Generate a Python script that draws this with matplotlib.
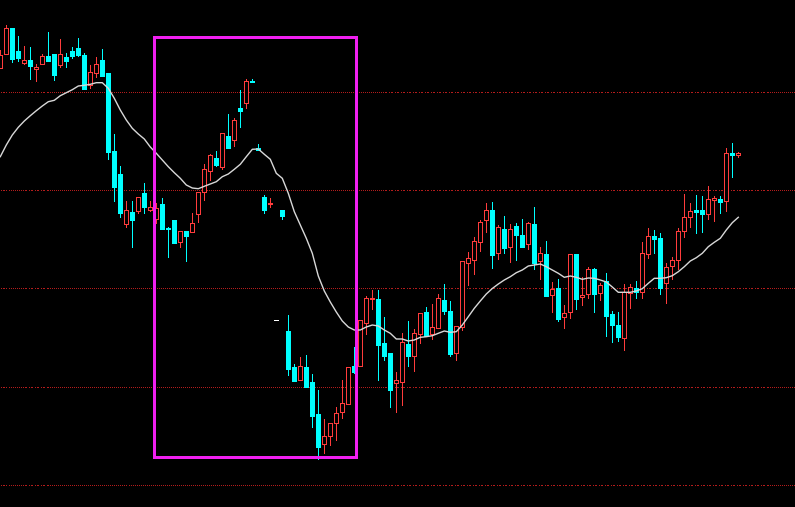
import matplotlib
matplotlib.use("Agg")
import matplotlib.pyplot as plt
import numpy as np
from matplotlib.patches import Rectangle

# daily OHLC, candle 0 is the leftmost (partly clipped) one
opens = [
    53.25, 54.65, 57.20, 54.90, 53.73, 53.97, 53.13, 53.63, 54.40, 54.60,
    53.53, 54.30, 54.90, 55.20, 54.50, 51.47, 52.73, 54.00, 52.70, 44.90,
    42.60, 37.57, 38.80, 38.90, 40.70, 39.00, 38.07, 39.60, 37.17, 38.00,
    35.77, 36.90, 36.77, 38.57, 40.77, 42.87, 44.20, 43.27, 46.40, 45.97,
    49.20, 49.67, 51.90, 45.20, 40.30, 39.60, 28.00, 38.97, 26.90, 23.27,
    22.03, 23.27, 21.80, 18.60, 15.57, 16.43, 17.67, 18.77, 19.63, 23.40,
    23.43, 27.73, 30.07, 30.10, 25.70, 24.70, 21.67, 21.77, 25.60, 24.43,
    26.57, 28.77, 26.57, 27.23, 30.00, 28.90, 24.73, 27.27, 33.67, 34.00,
    35.83, 37.97, 39.00, 34.73, 37.07, 35.33, 37.40, 36.50, 35.57, 37.60,
    33.87, 34.60, 30.47, 31.20, 28.27, 28.77, 34.60, 30.27, 30.57, 33.10,
    30.67, 31.90, 28.60, 27.50, 26.25, 30.67, 31.17, 30.83, 34.57, 36.37,
    36.23, 31.67, 33.43, 33.97, 36.87, 38.27, 39.00, 39.00, 38.57, 40.03,
    40.10, 39.93, 44.70, 44.47,
]
highs = [
    55.00, 57.50, 57.20, 56.40, 55.40, 55.27, 53.60, 54.60, 56.80, 54.60,
    56.10, 54.67, 55.30, 56.20, 54.70, 53.47, 54.30, 55.10, 52.70, 46.60,
    43.43, 39.90, 39.90, 40.30, 41.70, 39.90, 39.73, 40.17, 37.33, 38.00,
    36.87, 36.90, 38.70, 40.77, 43.57, 44.63, 44.90, 46.67, 48.60, 48.17,
    51.00, 52.10, 52.10, 45.60, 40.50, 40.20, 28.00, 38.97, 28.50, 23.57,
    24.27, 24.47, 22.60, 21.00, 18.10, 17.67, 19.33, 22.00, 23.27, 25.33,
    27.97, 30.40, 31.00, 31.00, 28.30, 24.70, 22.83, 26.70, 27.90, 27.10,
    28.67, 29.33, 29.57, 30.57, 31.60, 29.90, 27.40, 33.93, 34.77, 36.27,
    38.00, 39.67, 39.80, 37.50, 38.40, 37.60, 37.67, 38.10, 37.83, 39.33,
    35.30, 35.90, 31.80, 32.10, 29.50, 34.57, 34.60, 32.33, 33.33, 33.23,
    31.73, 32.70, 28.90, 28.85, 31.65, 31.60, 31.90, 35.80, 37.20, 37.00,
    36.67, 33.73, 34.33, 37.17, 40.60, 39.73, 40.50, 40.40, 41.40, 40.40,
    40.43, 45.17, 45.67, 44.77,
]
lows = [
    53.25, 54.65, 53.83, 53.93, 53.63, 52.10, 51.90, 53.63, 53.93, 52.00,
    53.33, 53.33, 54.23, 54.43, 51.10, 51.23, 52.33, 52.43, 44.13, 39.93,
    38.33, 37.33, 35.33, 38.73, 38.73, 38.90, 37.67, 37.10, 34.33, 35.73,
    35.33, 33.93, 36.77, 37.83, 40.03, 42.03, 43.40, 43.07, 45.23, 45.43,
    47.30, 49.23, 51.83, 44.97, 38.73, 39.33, 28.00, 38.13, 22.50, 21.93,
    22.03, 21.33, 17.33, 14.07, 14.67, 15.50, 16.00, 18.17, 19.63, 22.73,
    23.43, 26.57, 29.13, 22.00, 24.00, 19.33, 18.83, 19.50, 23.43, 22.93,
    25.73, 26.40, 26.07, 27.23, 28.60, 24.43, 24.03, 27.00, 31.50, 32.60,
    34.90, 36.83, 33.23, 34.07, 34.73, 33.83, 34.00, 35.33, 35.10, 33.13,
    32.07, 30.43, 28.83, 27.87, 27.17, 28.17, 29.07, 29.50, 30.17, 28.83,
    30.00, 26.43, 25.80, 25.90, 25.00, 29.17, 30.23, 30.23, 34.23, 34.73,
    30.57, 29.73, 32.07, 33.13, 36.27, 37.27, 36.67, 36.77, 38.10, 37.93,
    38.67, 38.93, 42.33, 44.33,
]
closes = [
    54.50, 57.17, 54.10, 54.23, 54.00, 53.43, 53.27, 54.37, 53.93, 52.53,
    54.60, 53.93, 54.43, 54.53, 51.10, 52.80, 53.60, 52.43, 44.83, 41.33,
    38.73, 38.97, 38.00, 40.30, 39.30, 39.27, 39.17, 37.10, 37.07, 35.73,
    36.87, 36.43, 37.67, 40.77, 43.07, 44.50, 43.50, 46.67, 45.23, 48.00,
    48.93, 51.90, 51.83, 44.97, 39.03, 39.67, 28.00, 38.43, 23.13, 21.93,
    23.40, 21.33, 18.43, 15.33, 16.40, 17.67, 18.67, 19.67, 23.27, 22.83,
    27.97, 30.17, 30.20, 25.53, 24.40, 21.03, 21.97, 25.77, 24.43, 26.67,
    28.67, 26.40, 27.27, 30.17, 28.93, 24.63, 27.40, 33.93, 34.23, 35.90,
    37.77, 39.00, 34.53, 37.27, 35.23, 37.07, 36.53, 35.33, 37.67, 33.73,
    34.70, 30.43, 31.07, 28.13, 28.67, 34.57, 30.13, 30.47, 33.07, 30.63,
    31.47, 28.43, 27.50, 26.27, 30.85, 31.27, 30.83, 34.67, 36.37, 36.10,
    31.23, 33.27, 33.97, 36.87, 38.27, 38.90, 38.83, 38.57, 40.10, 40.20,
    39.83, 44.70, 44.53, 44.67,
]
# moving average line as drawn on the chart
ma_line = [
    44.33, 45.50, 46.50, 47.27, 47.90, 48.43, 48.93, 49.40, 49.83, 49.97,
    50.43, 50.73, 51.03, 51.40, 51.47, 51.57, 51.73, 51.73, 51.17, 50.17,
    49.00, 48.00, 47.17, 46.60, 46.10, 45.30, 44.67, 44.00, 43.33, 42.73,
    42.17, 41.50, 41.20, 41.13, 41.37, 41.60, 41.83, 42.33, 42.60, 43.07,
    43.57, 44.33, 45.07, 45.10, 44.57, 44.07, 42.67, 42.17, 40.67, 38.83,
    37.50, 36.17, 34.67, 32.40, 30.90, 29.80, 28.80, 27.90, 27.30, 27.00,
    27.00, 27.30, 27.50, 27.40, 27.00, 26.67, 26.10, 26.10, 25.90, 26.00,
    26.27, 26.33, 26.43, 26.67, 26.90, 26.77, 26.83, 27.50, 28.33, 29.17,
    29.90, 30.60, 31.15, 31.60, 32.00, 32.33, 32.73, 33.00, 33.40, 33.50,
    33.60, 33.33, 33.00, 32.67, 32.27, 32.40, 32.27, 32.07, 32.20, 32.17,
    32.00, 31.80, 31.30, 30.77, 30.77, 30.77, 30.90, 31.13, 31.67, 32.17,
    32.17, 32.23, 32.43, 32.83, 33.33, 33.90, 34.23, 34.67, 35.33, 35.77,
    36.17, 37.00, 37.73, 38.27,
]
grid_levels = [11.45, 21.25, 31.15, 40.95, 50.75]
# highlighted stretch: candle index span and price span of the box
box_first, box_last = 26, 59
box_low, box_high = 14.27, 56.25

UP = "#ff3c3c"
DOWN = "#00ffff"
FLAT = "#ffffff"
px = 0.72  # one pixel in points at dpi 100
x_min, x_max = -0.05, 132.45

o = np.array(opens)
h = np.array(highs)
l = np.array(lows)
c = np.array(closes)
x = np.arange(len(o))
colors = np.where(c > o, UP, np.where(c < o, DOWN, FLAT))

fig = plt.figure(figsize=(7.95, 5.07), dpi=100, facecolor="black")
ax = fig.add_axes([0, 0, 1, 1])
ax.set_facecolor("black")

# dotted grid: single-pixel dots every second pixel
step = (x_max - x_min) / 795
dots = x_min + (np.arange(0, 795, 2) + 0.5) * step
for lv in grid_levels:
    ax.plot(dots, np.full(len(dots), lv), ls="none", marker=",",
            color="#b41c1c", zorder=1)

ax.vlines(x, l, h, colors=colors, lw=px, zorder=2, antialiased=False)

faces = np.where(c > o, "black", colors)
body = np.abs(c - o)
ax.bar(x, body, bottom=np.minimum(o, c), width=0.66, color=faces,
       edgecolor=colors, linewidth=px, zorder=3, antialiased=False)

ax.plot(x, ma_line, color="#d8d8d8", lw=1.0, zorder=4)

ax.add_patch(Rectangle((box_first - 0.33, box_low),
                       box_last - box_first + 0.66, box_high - box_low,
                       fill=False, edgecolor="#f020f0", lw=3 * px, zorder=5,
                       joinstyle="miter"))

ax.set_xlim(x_min, x_max)
ax.set_ylim(9.3, 60)
ax.axis("off")

fig.savefig("out.png", dpi=100, facecolor="black")
